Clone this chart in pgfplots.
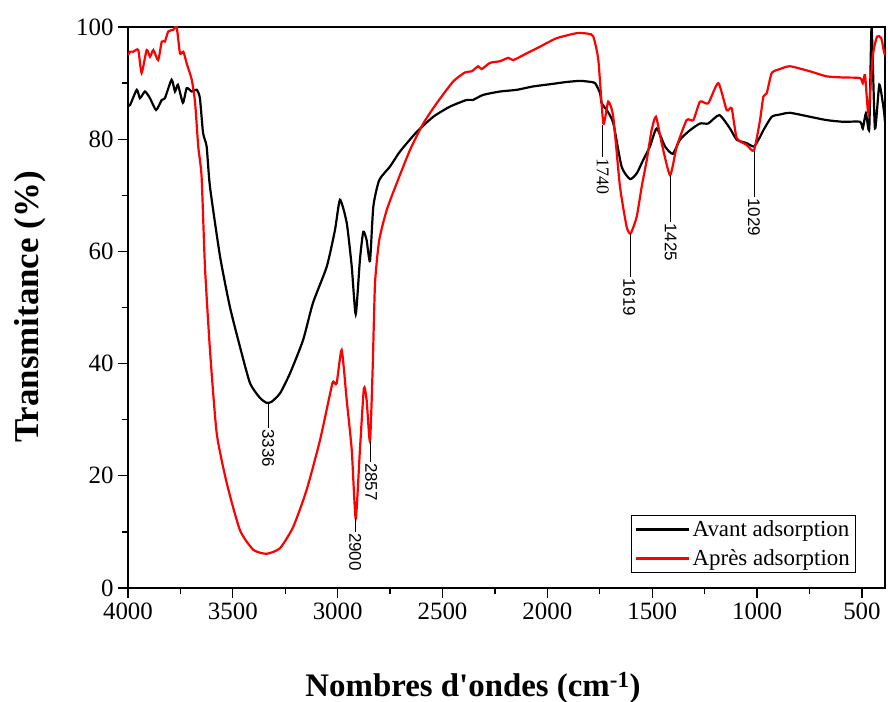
\documentclass[border=0pt]{standalone}
\usepackage{fontspec}
\setmainfont{Liberation Serif}[Ligatures=TeXOff]
\newfontfamily\annsans{Liberation Sans}
\usepackage{pgfplots}
\pgfplotsset{compat=1.18}
\begin{document}
\begin{tikzpicture}
\path[use as bounding box] (0,0) rectangle (888bp,702bp);
\begin{axis}[
 at={(128bp,114bp)}, anchor=south west, scale only axis, width=757bp, height=561bp,
 x dir=reverse, xmin=390, xmax=4000, ymin=0, ymax=100,
 xtick={500,1000,...,4000}, ytick={0,20,...,100},
 minor x tick num=1, minor y tick num=1,
 tick pos=left, tick align=outside,
 major tick length=10bp, minor tick length=6bp,
 every tick/.style={line width=1.3bp, black},
 axis line style={line width=1.6bp},
 tick label style={font=\fontsize{25}{28}\selectfont},
 xticklabel style={yshift=-1bp},
 yticklabel style={xshift=-1bp},
 /pgf/number format/assume math mode=true,
 /pgf/number format/1000 sep={},
 legend style={at={(0.962,0.027)}, anchor=south east, draw=black, line width=0.8bp,
   font=\fontsize{23}{27}\selectfont, cells={anchor=west}, inner xsep=4bp, inner ysep=3bp,
   row sep=8bp},
 legend image code/.code={\draw[#1, line width=2.6bp] (0bp,0bp) -- (53bp,0bp);},
 every axis plot/.append style={smooth, tension=0.35},
]
\addplot[black, line width=2.2bp] coordinates {
(4000,86.0)(3990,86.1)(3958,88.8)(3943,87.3)(3919,88.5)(3895,87.3)(3866,85.2)(3839,87.0)
(3824,87.3)(3792,90.6)(3776,88.5)(3762,89.7)(3738,86.5)(3720,89.1)(3696,88.5)(3672,88.8)
(3657,87.3)(3642,81.1)(3625,78.7)(3609,71.5)(3561,59.1)(3514,50.1)(3466,43.0)(3418,36.5)
(3371,33.9)(3339,33.0)(3315,33.2)(3275,34.7)(3227,38.3)(3165,44.2)(3118,50.8)(3052,57.3)
(3013,63.8)(2989,69.2)(2957,65.1)(2933,57.3)(2914,48.8)(2894,58.5)(2878,63.5)(2862,62.0)
(2846,58.3)(2830,68.0)(2802,72.7)(2751,75.1)(2703,77.8)(2623,81.3)(2544,84.0)(2465,85.8)
(2385,87.0)(2355,87.0)(2306,87.9)(2226,88.5)(2146,88.8)(2069,89.4)(1987,89.8)(1908,90.2)
(1845,90.4)(1813,90.3)(1773,90.0)(1749,88.2)(1741,86.4)(1717,85.2)(1686,82.9)(1646,75.1)
(1606,72.9)(1574,73.9)(1543,76.3)(1511,78.7)(1479,81.9)(1439,78.7)(1402,77.4)(1368,79.9)
(1320,81.6)(1272,82.8)(1233,82.8)(1180,84.3)(1129,81.9)(1097,79.9)(1050,79.3)(1015,78.7)
(986,80.4)(970,81.6)(930,84.0)(891,84.4)(843,84.7)(748,84.0)(668,83.4)(589,83.1)(509,83.1)
(496,81.9)(481,84.6)(465,81.9)(454,100)(438,81.9)(417,89.7)(395,85.0)(390,83.0)
};
\addlegendentry{Avant adsorption}
\addplot[red, line width=2.2bp] coordinates {
(4000,95.0)(3990,95.6)(3975,95.6)(3951,95.9)(3935,91.8)(3911,95.9)(3895,94.7)(3879,95.9)
(3856,94.1)(3839,97.4)(3824,97.4)(3808,99.2)(3784,99.5)(3768,100.0)(3752,95.3)(3736,95.6)
(3720,93.5)(3696,90.6)(3680,86.5)(3665,78.7)(3649,73.3)(3633,57.3)(3609,42.4)(3577,27.6)
(3529,18.7)(3466,10.3)(3402,6.8)(3339,6.1)(3275,7.1)(3212,10.9)(3148,17.5)(3084,26.4)
(3029,35.9)(3021,36.8)(3005,36.5)(2981,42.4)(2957,33.5)(2933,24.6)(2914,12.4)(2894,24.6)
(2875,35.6)(2862,33.5)(2846,26.1)(2833,39.4)(2822,54.3)(2802,62.0)(2766,67.4)(2719,72.1)
(2655,78.1)(2592,82.8)(2528,86.4)(2449,90.3)(2393,91.9)(2361,92.1)(2330,93.0)(2313,92.5)
(2274,93.6)(2226,93.9)(2186,94.5)(2163,94.1)(2099,95.3)(2035,96.5)(1956,98.0)(1860,98.9)
(1805,98.8)(1781,98.3)(1757,94.1)(1733,82.8)(1710,86.7)(1686,84.0)(1654,71.6)(1622,64.4)
(1603,63.2)(1574,66.2)(1550,71.6)(1526,76.3)(1503,81.6)(1482,84.0)(1455,79.3)(1415,73.6)
(1383,78.7)(1336,83.4)(1304,83.4)(1272,86.7)(1233,86.4)(1185,90.0)(1145,85.2)(1121,85.5)
(1097,80.2)(1050,79.0)(1015,78.0)(986,83.4)(970,87.6)(954,88.2)(930,91.8)(891,92.5)
(843,93.0)(748,92.1)(668,91.2)(589,91.0)(509,90.9)(496,90.0)(485,91.4)(469,84.6)
(449,94.7)(428,98.3)(408,98.0)(395,95.6)(390,95.0)
};
\addlegendentry{Après adsorption}
% peak annotations
\draw[line width=0.6bp] (axis cs:3331,33.0) -- (axis cs:3331,28.5);
\node[rotate=-90, anchor=west, inner sep=0.5bp, font=\annsans\fontsize{17}{17}\selectfont] at (axis cs:3331,28.4) {3336};
\draw[line width=0.6bp] (axis cs:2916,12.5) -- (axis cs:2916,10.0);
\node[rotate=-90, anchor=west, inner sep=0.5bp, font=\annsans\fontsize{17}{17}\selectfont] at (axis cs:2916,9.9) {2900};
\draw[line width=0.6bp] (axis cs:2846,26.1) -- (axis cs:2846,22.5);
\node[rotate=-90, anchor=west, inner sep=0.5bp, font=\annsans\fontsize{17}{17}\selectfont] at (axis cs:2840,22.4) {2857};
\draw[line width=0.6bp] (axis cs:1736,82.5) -- (axis cs:1736,76.8);
\node[rotate=-90, anchor=west, inner sep=0.5bp, font=\fontsize{18}{18}\selectfont] at (axis cs:1736,76.6) {1740};
\draw[line width=0.6bp] (axis cs:1603,63.2) -- (axis cs:1603,55.4);
\node[rotate=-90, anchor=west, inner sep=0.5bp, font=\annsans\fontsize{17}{17}\selectfont] at (axis cs:1610,55.3) {1619};
\draw[line width=0.6bp] (axis cs:1412,73.6) -- (axis cs:1412,65.2);
\node[rotate=-90, anchor=west, inner sep=0.5bp, font=\annsans\fontsize{17}{17}\selectfont] at (axis cs:1412,65.1) {1425};
\draw[line width=0.6bp] (axis cs:1015,77.9) -- (axis cs:1015,69.7);
\node[rotate=-90, anchor=west, inner sep=0.5bp, font=\annsans\fontsize{17}{17}\selectfont] at (axis cs:1015,69.6) {1029};
\end{axis}
\node[rotate=90, font=\bfseries\fontsize{35}{40}\selectfont] at (30bp,395bp) {Transmitance (\%)};
\node[font=\bfseries\fontsize{33}{38}\selectfont] at (473bp,14bp) {Nombres d'ondes (cm\textsuperscript{-1})};
\end{tikzpicture}
\end{document}
